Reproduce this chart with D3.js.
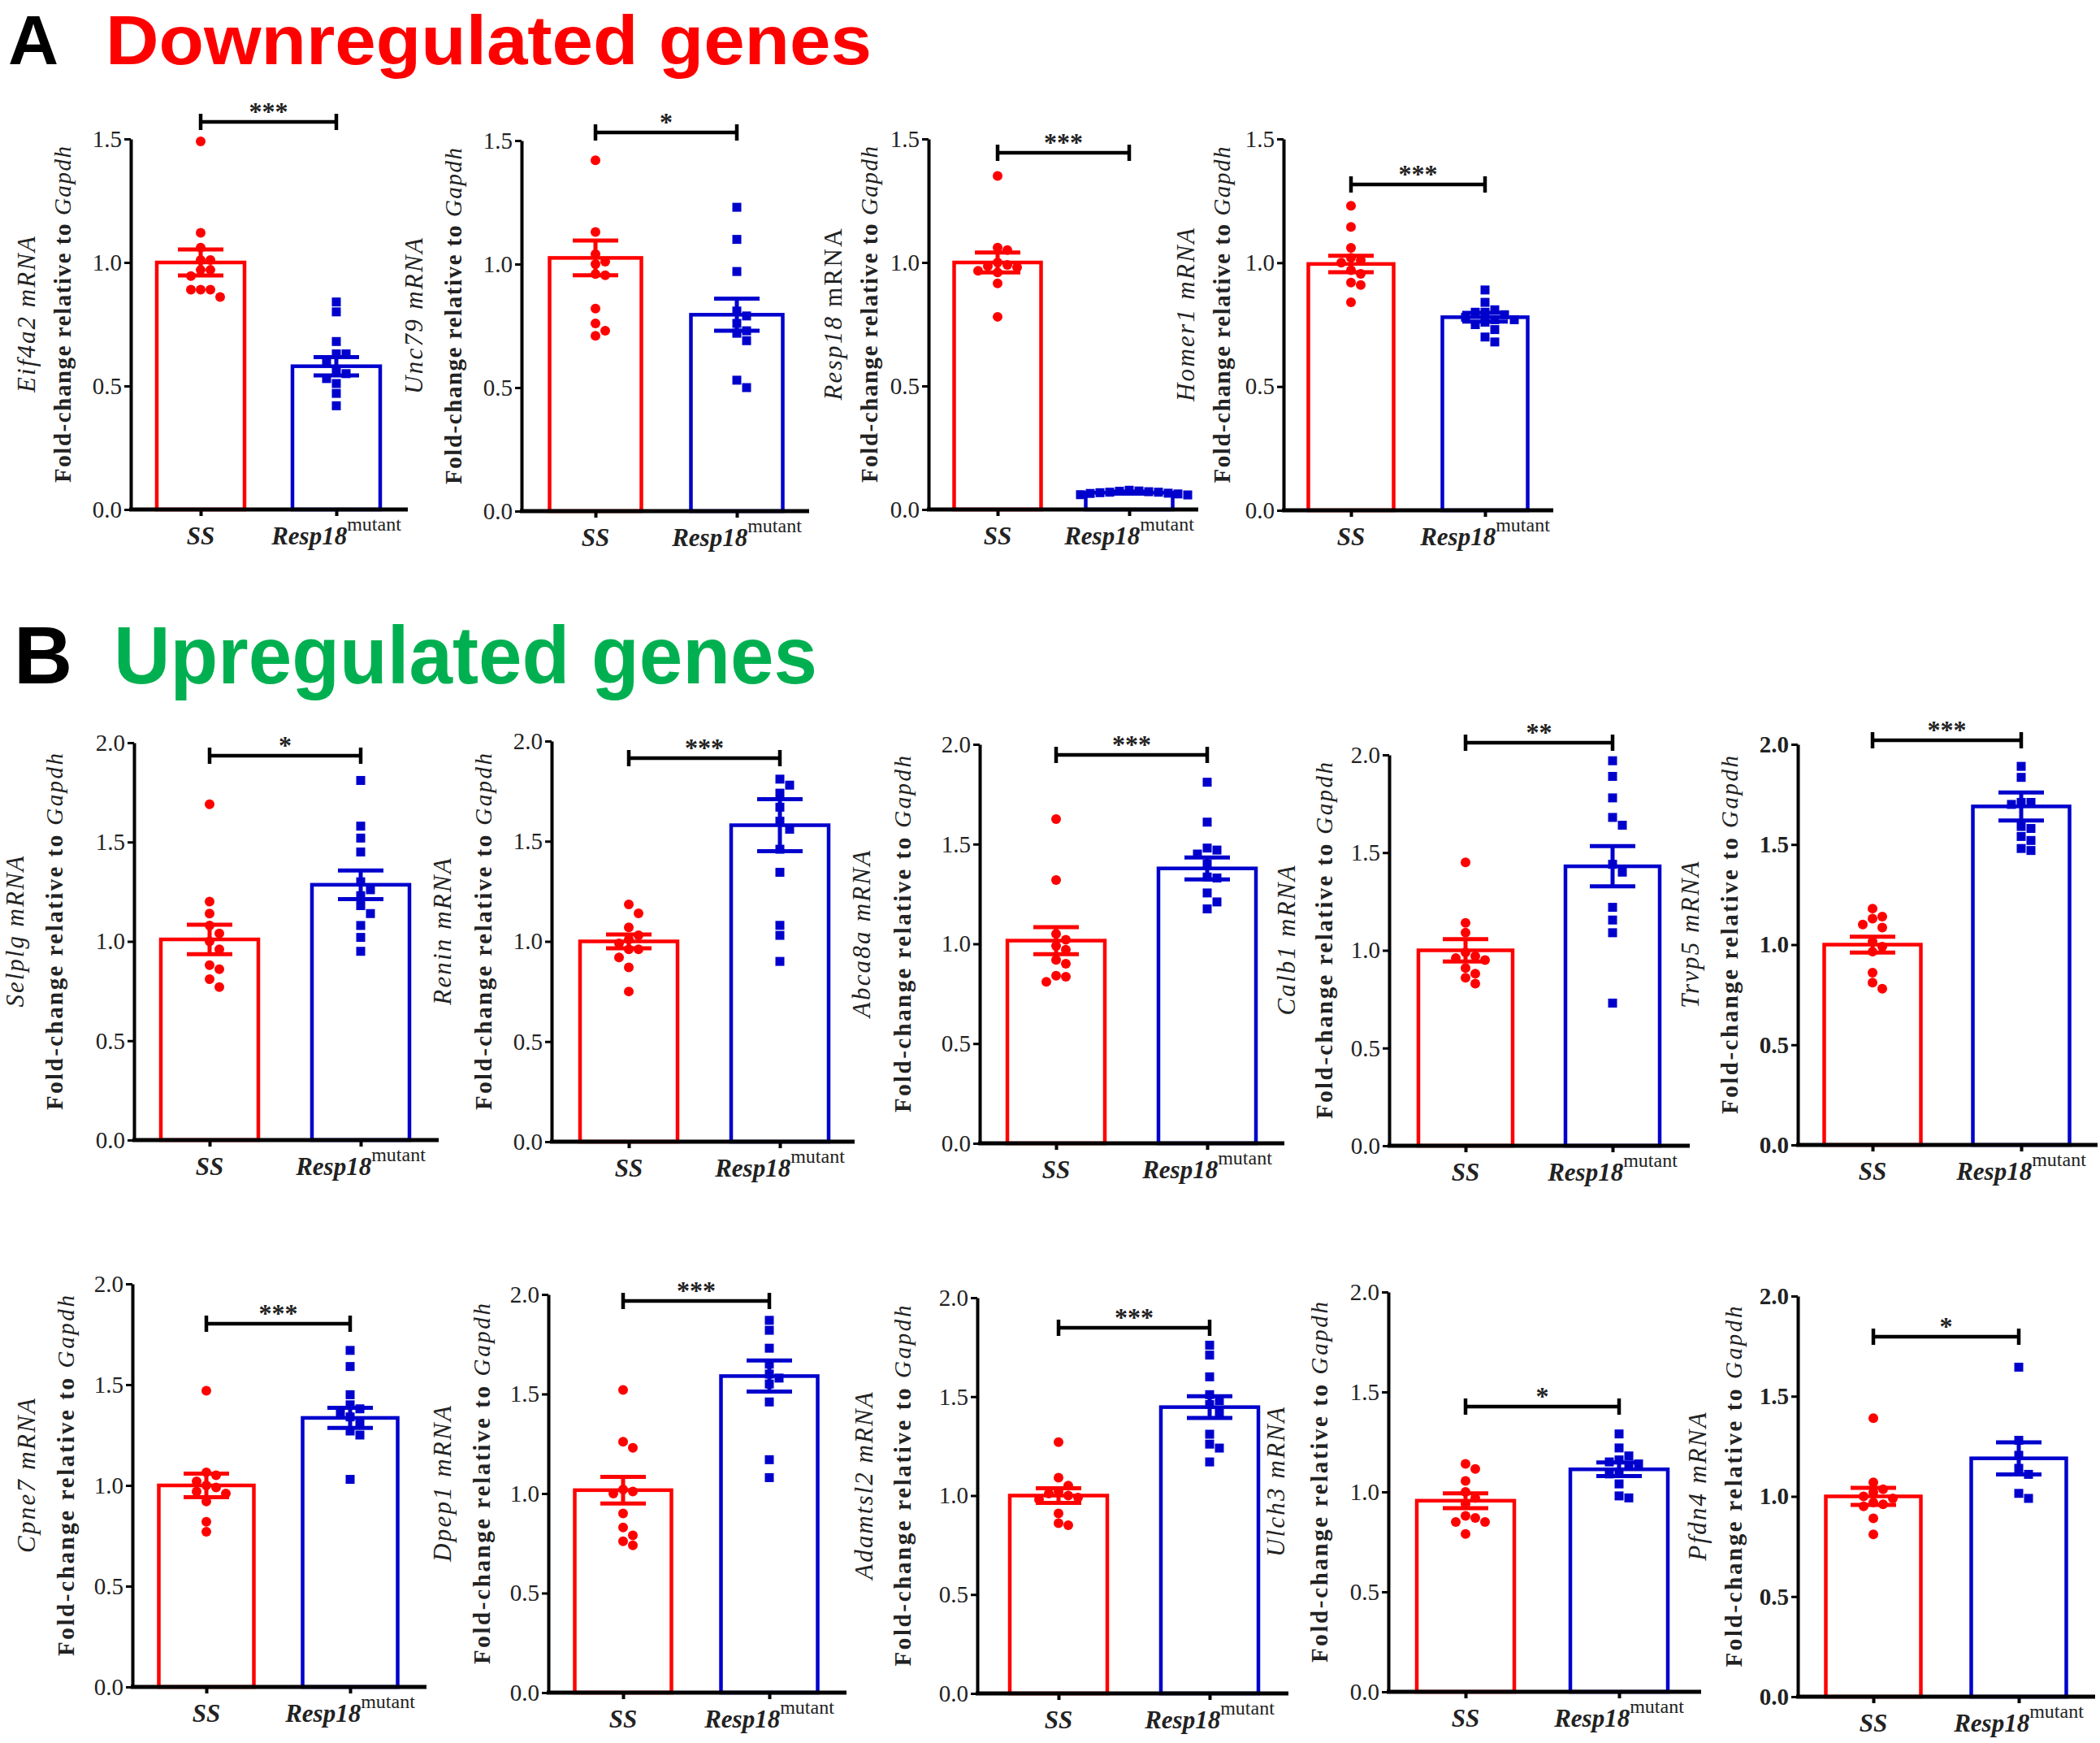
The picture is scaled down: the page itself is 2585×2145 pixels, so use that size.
<!DOCTYPE html>
<html><head><meta charset="utf-8">
<script src="https://cdn.jsdelivr.net/npm/d3@7"></script>
<style>body{margin:0;background:#fff}svg{display:block}</style>
</head><body>
<script>
// ---------------- DATA ----------------
const groups = ["SS", "Resp18"];
const genes = ["Eif4a2","Unc79","Resp18","Homer1","Selplg","Renin","Abca8a","Calb1","Trvp5","Cpne7","Dpep1","Adamtsl2","Ulch3","Pfdn4"];
const mrnaItalic = [true,true,false,true,true,true,true,true,true,true,true,true,true,true];
const yMax = [1.5,1.5,1.5,1.5,2,2,2,2,2,2,2,2,2,2];
const stars = ["***","*","***","***","*","***","***","**","***","***","***","***","*","*"];
const meanSS  = [1.0,1.025,1.0,0.995,1.01,1.0,1.016,1.0,1.0,1.0,1.017,1.0,0.956,1.0];
const semSS   = [0.053,0.07,0.04,0.033,0.074,0.034,0.068,0.057,0.04,0.058,0.067,0.037,0.037,0.043];
const meanMut = [0.58,0.795,0.068,0.78,1.285,1.58,1.378,1.43,1.69,1.335,1.59,1.447,1.113,1.19];
const semMut  = [0.037,0.065,0.004,0.018,0.072,0.13,0.055,0.103,0.07,0.05,0.078,0.055,0.034,0.08];
const ptsSS = [
 [1.49,1.12,1.06,1.01,1.01,0.97,0.97,0.945,0.89,0.89,0.89,0.86],
 [1.42,1.13,1.04,1.01,1.0,0.96,0.955,0.82,0.76,0.73,0.71],
 [1.35,1.06,1.05,1.0,0.99,0.985,0.98,0.966,0.96,0.915,0.78],
 [1.23,1.145,1.06,1.02,1.01,1.0,0.97,0.955,0.92,0.91,0.84],
 [1.69,1.20,1.14,1.08,1.04,1.0,0.96,0.88,0.86,0.81,0.77],
 [1.185,1.14,1.07,1.03,1.01,0.99,0.96,0.96,0.92,0.87,0.75],
 [1.625,1.32,1.05,1.02,0.99,0.97,0.92,0.90,0.84,0.835,0.81],
 [1.45,1.14,1.09,0.99,0.97,0.96,0.95,0.91,0.88,0.86,0.83],
 [1.18,1.14,1.13,1.10,1.085,1.015,0.99,0.965,0.86,0.81,0.78],
 [1.47,1.065,1.05,1.02,1.0,0.99,0.97,0.96,0.92,0.82,0.77],
 [1.52,1.26,1.23,1.02,1.01,1.0,0.90,0.83,0.79,0.76,0.74],
 [1.27,1.09,1.05,1.02,1.01,1.0,0.99,0.98,0.91,0.86,0.85],
 [1.14,1.115,1.055,1.0,0.97,0.94,0.88,0.87,0.85,0.85,0.79],
 [1.39,1.07,1.035,1.02,1.0,0.99,0.97,0.96,0.95,0.89,0.81]
];
const ptsMut = [
 [0.84,0.80,0.68,0.63,0.63,0.60,0.56,0.55,0.53,0.51,0.47,0.42],
 [1.23,1.10,0.97,0.81,0.79,0.76,0.73,0.72,0.69,0.53,0.50],
 [0.078,0.075,0.074,0.072,0.07,0.07,0.068,0.066,0.065,0.063,0.06,0.059],
 [0.89,0.84,0.81,0.80,0.80,0.79,0.78,0.77,0.77,0.76,0.75,0.73,0.70,0.68],
 [1.81,1.58,1.52,1.45,1.30,1.26,1.23,1.18,1.14,1.08,1.02,0.95],
 [1.81,1.78,1.74,1.67,1.60,1.56,1.46,1.345,1.08,1.03,0.90],
 [1.81,1.61,1.48,1.47,1.45,1.40,1.335,1.33,1.255,1.21,1.175],
 [1.97,1.89,1.78,1.68,1.64,1.44,1.40,1.22,1.155,1.09,0.73],
 [1.89,1.835,1.71,1.71,1.70,1.59,1.58,1.54,1.52,1.48,1.47],
 [1.67,1.59,1.45,1.40,1.38,1.36,1.34,1.31,1.27,1.25,1.03],
 [1.87,1.82,1.73,1.65,1.60,1.58,1.55,1.46,1.17,1.08],
 [1.76,1.71,1.60,1.51,1.48,1.46,1.42,1.31,1.26,1.24,1.17],
 [1.29,1.22,1.18,1.16,1.15,1.14,1.13,1.10,1.09,1.04,0.98,0.97],
 [1.645,1.28,1.205,1.14,1.11,1.015,0.99]
];
const sectionTitles = [["A","Downregulated genes"],["B","Upregulated genes"]];

// ---------------- LAYOUT ----------------
const layout = [
 {ax:161, yTop:171, y0:627, xEnd:502, ssX:247, rX:414, barW:108, br:150, d1:129, d2:84, len2:414},
 {ax:642, yTop:173, y0:629, xEnd:996, ssX:733, rX:907, barW:113, br:163, d1:133, d2:84, len2:414},
 {ax:1143,yTop:171, y0:627, xEnd:1475,ssX:1228,rX:1390,barW:107, br:188, d1:118, d2:73, len2:414},
 {ax:1580,yTop:171, y0:628, xEnd:1912,ssX:1663,rX:1828,barW:105, br:227, d1:121, d2:76, len2:414},
 {ax:165, yTop:914, y0:1403,xEnd:540, ssX:258, rX:444, barW:120, br:930, d1:147, d2:98, len2:439},
 {ax:679, yTop:912, y0:1405,xEnd:1052,ssX:774, rX:960, barW:120, br:933, d1:135, d2:84, len2:439},
 {ax:1206,yTop:916, y0:1407,xEnd:1581,ssX:1300,rX:1486,barW:120, br:929, d1:146, d2:95, len2:439},
 {ax:1710,yTop:929, y0:1410,xEnd:2080,ssX:1804,rX:1985,barW:116, br:914, d1:127, d2:80, len2:439},
 {ax:2213,yTop:916, y0:1409,xEnd:2582,ssX:2305,rX:2488,barW:119, br:911, d1:133, d2:84, len2:441, bold:true},
 {ax:163, yTop:1580,y0:2076,xEnd:525, ssX:254, rX:431, barW:117, br:1629,d1:131, d2:82, len2:444},
 {ax:675, yTop:1593,y0:2083,xEnd:1042,ssX:767, rX:947, barW:119, br:1601,d1:131, d2:82, len2:444},
 {ax:1203,yTop:1597,y0:2084,xEnd:1586,ssX:1303,rX:1489,barW:120, br:1634,d1:140, d2:92, len2:444},
 {ax:1709,yTop:1590,y0:2082,xEnd:2094,ssX:1804,rX:1993,barW:120, br:1731,d1:139, d2:85, len2:444},
 {ax:2213,yTop:1595,y0:2088,xEnd:2579,ssX:2306,rX:2485,barW:117, br:1645,d1:124, d2:79, len2:444, bold:true}
];
const titleLayout = [
 {lx:10, tx:130, base:79, fs:86, len:943, color:"#ff0000"},
 {lx:17, tx:140, base:841, fs:100, len:866, color:"#00b050"}
];
const colors = ["#ff0000", "#0000cd"];
const SERIF = "'Liberation Serif','Times New Roman',serif";
const SANS = "'Liberation Sans',Arial,sans-serif";

// ---------------- DRAW ----------------
const svg = d3.select("body").append("svg").attr("width",2585).attr("height",2145);
svg.append("rect").attr("width",2585).attr("height",2145).attr("fill","#fff");

sectionTitles.forEach((t,k)=>{
  const T = titleLayout[k];
  svg.append("text").attr("x",T.lx).attr("y",T.base).attr("font-family",SANS)
    .attr("font-weight","bold").attr("font-size",T.fs).attr("fill","#000").text(t[0]);
  svg.append("text").attr("x",T.tx).attr("y",T.base).attr("font-family",SANS)
    .attr("font-weight","bold").attr("font-size",T.fs).attr("fill",T.color)
    .attr("textLength",T.len).attr("lengthAdjust","spacingAndGlyphs").text(t[1]);
});

function swarm(vals, y, cx, step){
  const order = vals.map((v,i)=>i).sort((a,b)=>vals[b]-vals[a]);
  const placed = [];
  const out = new Array(vals.length);
  order.forEach(i=>{
    const py = y(vals[i]);
    for(let k=0;k<40;k++){
      const off = k===0?0:(k%2? 1:-1)*Math.ceil(k/2)*step;
      const px = cx+off;
      if(!placed.some(p=>(p[0]-px)**2+(p[1]-py)**2 < (step*0.98)**2)){
        placed.push([px,py]); out[i]=[px,py]; break;
      }
    }
  });
  return out;
}

layout.forEach((L,i)=>{
  const g = svg.append("g");
  const y = d3.scaleLinear().domain([0,yMax[i]]).range([L.y0,L.yTop]);
  const x = d3.scalePoint().domain(groups).range([L.ssX,L.rX]);
  const means=[meanSS[i],meanMut[i]], sems=[semSS[i],semMut[i]], pts=[ptsSS[i],ptsMut[i]];

  groups.forEach((grp,j)=>{
    const cx = x(grp);
    g.append("rect").attr("x",cx-L.barW/2).attr("y",y(means[j]))
      .attr("width",L.barW).attr("height",y(0)-y(means[j]))
      .attr("fill","none").attr("stroke",colors[j]).attr("stroke-width",4.5);
    const pos = swarm(pts[j], y, cx, 12);
    if(j===0){
      g.selectAll(null).data(pos).enter().append("circle")
        .attr("cx",d=>d[0]).attr("cy",d=>d[1]).attr("r",6).attr("fill",colors[j]);
    } else {
      g.selectAll(null).data(pos).enter().append("rect")
        .attr("x",d=>d[0]-5.5).attr("y",d=>d[1]-5.5).attr("width",11).attr("height",11).attr("fill",colors[j]);
    }
    const hi=y(means[j]+sems[j]), lo=y(means[j]-sems[j]);
    g.append("line").attr("x1",cx).attr("x2",cx).attr("y1",hi).attr("y2",lo)
      .attr("stroke",colors[j]).attr("stroke-width",5);
    [hi,lo].forEach(yy=>g.append("line").attr("x1",cx-28).attr("x2",cx+28).attr("y1",yy).attr("y2",yy)
      .attr("stroke",colors[j]).attr("stroke-width",5));
  });

  // y axis
  const ya = d3.axisLeft(y).tickValues(d3.range(0,yMax[i]+1e-9,0.5))
    .tickFormat(d3.format(".1f")).tickSize(8).tickSizeOuter(0).tickPadding(3);
  const yg = g.append("g").attr("transform",`translate(${L.ax},0)`).call(ya);
  yg.select(".domain").attr("stroke","#000").attr("stroke-width",4);
  yg.selectAll(".tick line").attr("stroke","#000").attr("stroke-width",3);
  yg.selectAll(".tick text").attr("font-family",SERIF).attr("font-size",29)
    .attr("font-weight",L.bold?"bold":"normal").attr("fill","#222");

  // x axis
  const xa = d3.axisBottom(x).tickSize(8).tickSizeOuter(0).tickFormat("");
  const xg = g.append("g").attr("transform",`translate(0,${L.y0})`).call(xa);
  xg.select(".domain").remove();
  xg.selectAll(".tick line").attr("stroke","#000").attr("stroke-width",4);
  g.append("line").attr("x1",L.ax-2).attr("x2",L.xEnd).attr("y1",L.y0).attr("y2",L.y0)
    .attr("stroke","#000").attr("stroke-width",5);

  // category labels
  g.append("text").attr("x",x("SS")).attr("y",L.y0+43).attr("text-anchor","middle")
    .attr("font-family",SERIF).attr("font-size",31).attr("font-weight","bold")
    .attr("font-style","italic").attr("fill","#222").text(groups[0]);
  const ct = g.append("text").attr("x",x("Resp18")).attr("y",L.y0+43).attr("text-anchor","middle")
    .attr("font-family",SERIF).attr("fill","#222");
  ct.append("tspan").attr("font-size",31).attr("font-weight","bold").attr("font-style","italic").text(groups[1]);
  ct.append("tspan").attr("font-size",24).attr("dy",-17).text("mutant");

  // y labels
  const cy = (L.y0+L.yTop)/2 - 12;
  const t1 = g.append("text").attr("transform",`translate(${L.ax-L.d1},${cy}) rotate(-90)`)
    .attr("text-anchor","middle").attr("dominant-baseline","central")
    .attr("font-family",SERIF).attr("font-size",31).attr("fill","#222");
  t1.append("tspan").attr("font-style","italic").text(genes[i]+" ");
  t1.append("tspan").attr("font-style",mrnaItalic[i]?"italic":"normal").text("mRNA");
  const nat = t1.node().getComputedTextLength();
  t1.attr("textLength",nat*1.12).attr("lengthAdjust","spacing");
  const t2 = g.append("text").attr("transform",`translate(${L.ax-L.d2},${cy}) rotate(-90)`)
    .attr("text-anchor","middle").attr("dominant-baseline","central")
    .attr("font-family",SERIF).attr("font-size",29).attr("font-weight","bold").attr("fill","#222")
    .attr("textLength",L.len2).attr("lengthAdjust","spacing");
  t2.append("tspan").text("Fold-change relative to ");
  t2.append("tspan").attr("font-style","italic").attr("font-weight","normal").text("Gapdh");

  // significance bracket
  g.append("line").attr("x1",x("SS")).attr("x2",x("Resp18")).attr("y1",L.br).attr("y2",L.br)
    .attr("stroke","#000").attr("stroke-width",4.5);
  [x("SS"),x("Resp18")].forEach(xx=>g.append("line").attr("x1",xx).attr("x2",xx)
    .attr("y1",L.br-10).attr("y2",L.br+10).attr("stroke","#000").attr("stroke-width",4.5));
  g.append("text").attr("x",(x("SS")+x("Resp18"))/2).attr("y",L.br-2).attr("text-anchor","middle")
    .attr("font-family",SERIF).attr("font-size",32).attr("font-weight","bold").attr("fill","#222")
    .text(stars[i]);
});
</script>
</body></html>
